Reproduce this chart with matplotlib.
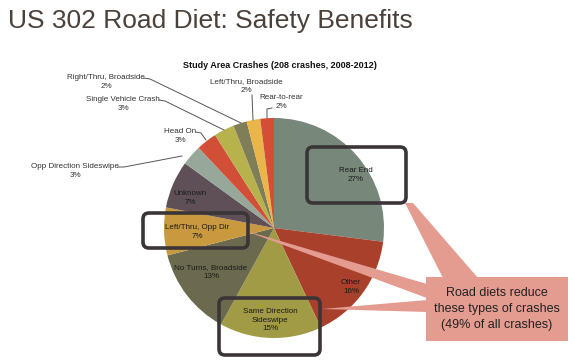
#!/usr/bin/env python3
import matplotlib
matplotlib.use("Agg")
import matplotlib.pyplot as plt
from matplotlib.patches import FancyBboxPatch, Polygon, Rectangle

# crash types, clockwise from 12 o'clock
crash_types = [
    "Rear End", "Other", "Same Direction\nSideswipe", "No Turns, Broadside",
    "Left/Thru, Opp Dir", "Unknown", "Opp Direction Sideswipe", "Head On",
    "Single Vehicle Crash", "Right/Thru, Broadside", "Left/Thru, Broadside",
    "Rear-to-rear",
]
shares = [27, 16, 15, 13, 7, 7, 3, 3, 3, 2, 2, 2]
slice_colors = [
    "#778779", "#a9402c", "#a29b45", "#6b6a4e", "#c9993f", "#5e5056",
    "#97a79a", "#d14e37", "#b8b24c", "#7f7e58", "#eab64a", "#d34d37",
]

# label layout in pixel coords (x, y from top)
inside_pos = {
    "Rear End": (356, 175), "Other": (351, 287),
    "Same Direction\nSideswipe": (270, 320), "No Turns, Broadside": (211, 272),
    "Left/Thru, Opp Dir": (197, 232), "Unknown": (190, 198),
}
outside_pos = {
    "Opp Direction Sideswipe": ((75, 171), [(118, 167), (124, 167), (182, 156)]),
    "Head On": ((180, 136), [(196, 132), (201, 133), (206, 140)]),
    "Single Vehicle Crash": ((123, 104), [(159, 100), (165, 101), (224, 130)]),
    "Right/Thru, Broadside": ((106, 82), [(144, 78), (150, 79), (241, 123)]),
    "Left/Thru, Broadside": ((246, 86), [(252, 95), (253, 120)]),
    "Rear-to-rear": ((281, 102), [(272, 108), (267, 109), (267, 118)]),
}

W, H = 575, 363
plt.rcParams["font.family"] = ["Liberation Sans", "DejaVu Sans"]

fig = plt.figure(figsize=(W / 100, H / 100), dpi=100)
ax = fig.add_axes([0, 0, 1, 1])

# y axis runs downward, so counterclockwise in data = clockwise on screen
ax.pie(shares, colors=slice_colors, startangle=-90, counterclock=True,
       center=(274, 228), radius=110, frame=True,
       wedgeprops=dict(linewidth=0))
ax.set_xlim(0, W)
ax.set_ylim(H, 0)
ax.set_aspect("equal")
ax.axis("off")

for name, pct in zip(crash_types, shares):
    if name in inside_pos:
        x, y = inside_pos[name]
        ax.text(x, y, f"{name}\n{pct}%", ha="center", va="center",
                fontsize=5.8, color="#1a1a1a", linespacing=1.3, zorder=5)
    else:
        (x, y), line = outside_pos[name]
        ax.text(x, y, f"{name}\n{pct}%", ha="center", va="center",
                fontsize=5.8, color="#333333", linespacing=1.3, zorder=5)
        ax.plot([p[0] for p in line], [p[1] for p in line],
                color="#555555", lw=0.7, zorder=4)

fig.text(8 / W, 1 - 21 / H, "US 302 Road Diet: Safety Benefits",
         fontsize=19, color="#4a413b", ha="left", va="center")
ax.text(280, 66, "Study Area Crashes (208 crashes, 2008-2012)",
        ha="center", va="center", fontsize=6.5, fontweight="bold",
        color="#111111")

# callout pointers and box
callout = "#e49b90"
for pts in ([(405, 203), (413, 203), (478, 278), (443, 278)],
            [(243, 230), (427, 284), (427, 298)],
            [(322, 309), (427, 300), (427, 312)]):
    ax.add_patch(Polygon(pts, closed=True, facecolor=callout,
                         edgecolor="none", zorder=3))
ax.add_patch(Rectangle((426, 277), 142, 64, facecolor=callout,
                       edgecolor="none", zorder=3))
ax.text(497, 309, "Road diets reduce\nthese types of crashes\n(49% of all crashes)",
        ha="center", va="center", fontsize=9, color="#222222",
        linespacing=1.4, zorder=5)

# highlight boxes
for x0, y0, x1, y1 in [(307, 147, 406, 203), (143, 213, 248, 248),
                       (219, 298, 320, 355)]:
    ax.add_patch(FancyBboxPatch((x0, y0), x1 - x0, y1 - y0,
                                boxstyle="round,pad=0,rounding_size=6",
                                facecolor="none", edgecolor="#3b3538",
                                lw=2.6, zorder=4))

fig.savefig("out.png", dpi=100)
